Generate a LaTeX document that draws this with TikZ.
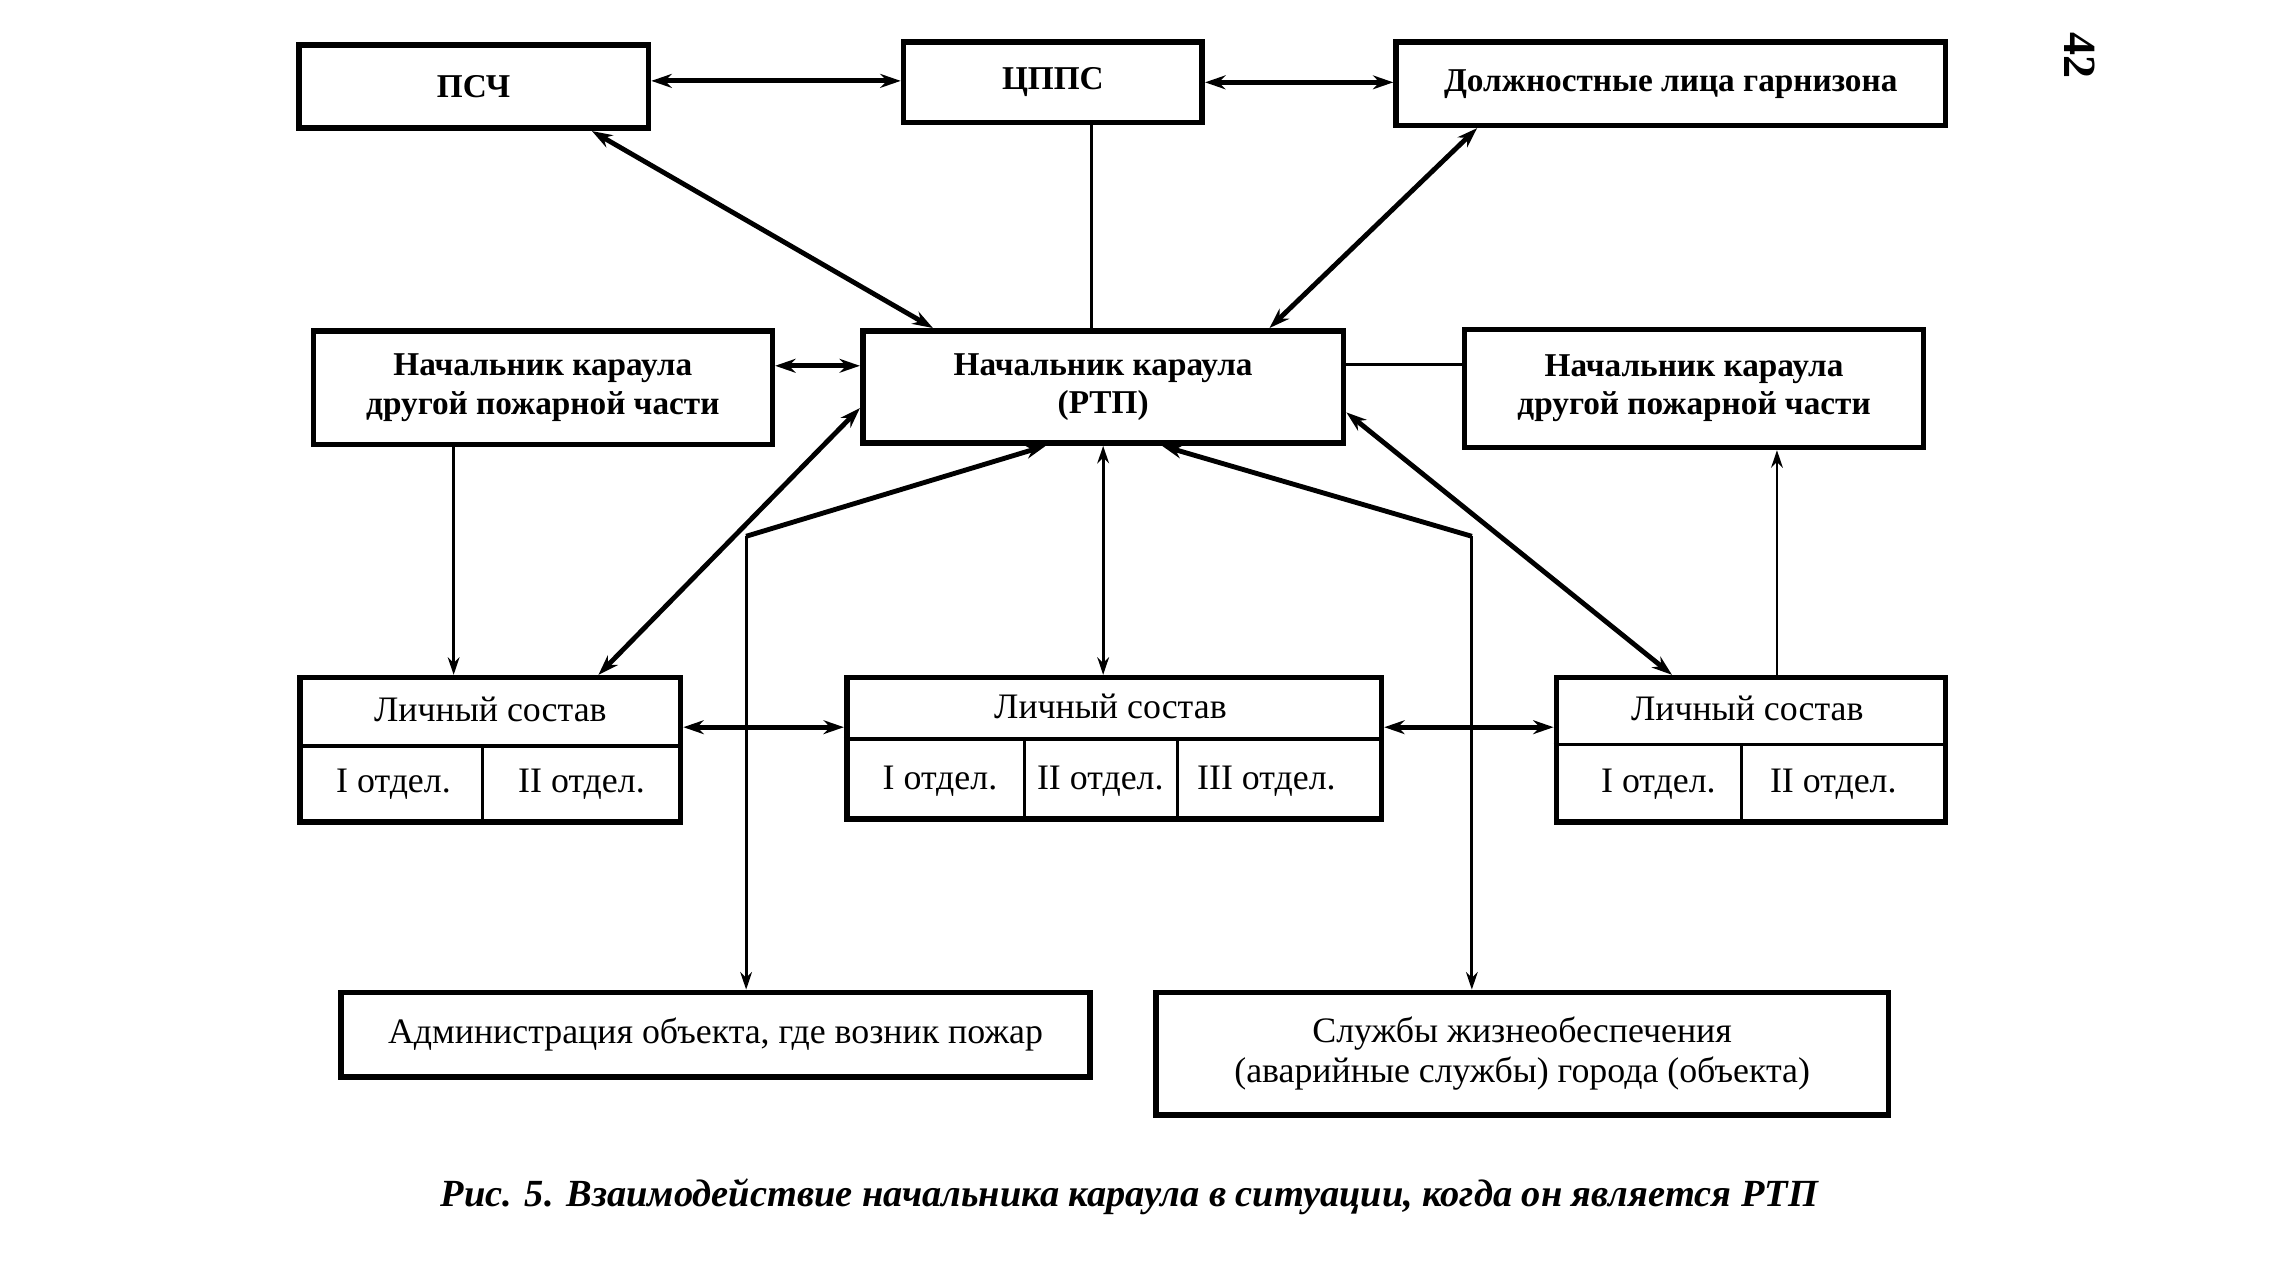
\documentclass[tikz,border=0pt]{standalone}
\usepackage{fontspec}
\setmainfont{Liberation Serif}
\usetikzlibrary{calc,arrows.meta}
\tikzset{
  box/.style={draw=black, line width=2.2pt, inner sep=0pt, align=center, font=\fontsize{13}{15}\selectfont\bfseries},
  boxr/.style={box, font=\fontsize{14}{15.5}\selectfont},
  grid/.style={draw=black, line width=1.4pt},
  cell/.style={inner sep=0pt, font=\fontsize{14}{16}\selectfont},
  dlink/.style={draw=black, line width=1.9pt, {Stealth[length=2.8mm,width=1.9mm]}-{Stealth[length=2.8mm,width=1.9mm]}},
  uplink/.style={draw=black, line width=1.9pt, {Stealth[length=2.8mm,width=1.9mm]}-},
  slink/.style={draw=black, line width=1.1pt, -{Stealth[length=2.4mm,width=1.6mm]}},
  sdlink/.style={draw=black, line width=1.1pt, {Stealth[length=2.4mm,width=1.6mm]}-{Stealth[length=2.4mm,width=1.6mm]}},
  bare/.style={draw=black, line width=1.4pt},
}
\begin{document}
\begin{tikzpicture}[x=0.02cm, y=-0.02cm]
  \fill[white] (0,0) rectangle (1568,881.8);
  \useasboundingbox (0,0) rectangle (1568,881.8);

  % top row
  \node[box, minimum width=4.8cm, minimum height=1.14cm] (psch) at (325,59.5) {ПСЧ};
  \node[box, minimum width=4.1cm, minimum height=1.1cm] (cpps) at (722.5,56.5) {ЦППС};
  \node[box, minimum width=7.54cm, minimum height=1.14cm] (dolzh) at (1146.5,57.5) {Должностные лица гарнизона};

  % middle row
  \node[box, minimum width=6.3cm, minimum height=1.56cm] (nkl) at (372.5,266) {Начальник караула\\другой пожарной части};
  \node[box, minimum width=6.6cm, minimum height=1.54cm] (rtp) at (757,265.5) {Начальник караула\\(РТП)};
  \node[box, minimum width=6.3cm, minimum height=1.62cm] (nkr) at (1162.5,266.5) {Начальник караула\\другой пожарной части};

  % personnel boxes
  \node[box, minimum width=5.22cm, minimum height=1.98cm] (lsl) at (336.5,514.5) {};
  \node[box, minimum width=7.34cm, minimum height=1.94cm] (lsc) at (764.5,513.5) {};
  \node[box, minimum width=5.34cm, minimum height=1.98cm] (lsr) at (1201.5,514.5) {};

  \draw[grid] (lsl.west |- 0,512) -- (lsl.east |- 0,512);
  \draw[grid] (331,512) -- (331,512 |- lsl.south);
  \draw[grid] (lsc.west |- 0,507) -- (lsc.east |- 0,507);
  \draw[grid] (703,507) -- (703,507 |- lsc.south);
  \draw[grid] (808,507) -- (808,507 |- lsc.south);
  \draw[grid] (lsr.west |- 0,511) -- (lsr.east |- 0,511);
  \draw[grid] (1195,511) -- (1195,511 |- lsr.south);

  \node[cell] (lslh) at (336.5,487) {Личный состав};
  \node[cell] (lsl1) at (270,538) {I отдел.};
  \node[cell] (lsl2) at (399,538) {II отдел.};
  \node[cell] (lsch) at (762,485) {Личный состав};
  \node[cell] (lsc1) at (645,536) {I отдел.};
  \node[cell] (lsc2) at (755,536) {II отдел.};
  \node[cell] (lsc3) at (869,536) {III отдел.};
  \node[cell] (lsrh) at (1199,486) {Личный состав};
  \node[cell] (lsr1) at (1138,538) {I отдел.};
  \node[cell] (lsr2) at (1258,538) {II отдел.};

  % bottom row
  \node[boxr, minimum width=10.28cm, minimum height=1.16cm] (adm) at (491,710) {Администрация объекта, где возник пожар};
  \node[boxr, minimum width=10.06cm, minimum height=1.68cm] (slu) at (1044.5,723) {Службы жизнеобеспечения\\(аварийные службы) города (объекта)};

  \node[font=\fontsize{15}{18}\selectfont\bfseries\itshape] (cap) at (775,821) {Рис. 5. Взаимодействие начальника караула в ситуации, когда он является РТП};
  \node[rotate=-90, font=\fontsize{18}{20}\selectfont\bfseries] (page) at (1427,38) {42};

  % connectors
  \draw[dlink] ([yshift=0.08cm]psch.east) -- ([yshift=0.08cm]psch.east -| cpps.west);
  \draw[dlink] (cpps.east) -- (cpps.east -| dolzh.west);
  \draw[dlink] ($(psch.south west)!0.833!(psch.south east)$) -- ($(rtp.north west)!0.15!(rtp.north east)$);
  \coordinate (cp) at ($(rtp.north west)!0.476!(rtp.north east)$);
  \draw[bare] (cp) -- (cp |- cpps.south);
  \draw[dlink] ($(dolzh.south west)!0.151!(dolzh.south east)$) -- ($(rtp.north west)!0.842!(rtp.north east)$);

  \draw[dlink] ([yshift=0.30cm]nkl.east) -- ([yshift=0.30cm]nkl.east -| rtp.west);
  \draw[bare] ([yshift=0.31cm]rtp.east) -- ([yshift=0.31cm]rtp.east -| nkr.west);

  \coordinate (nl) at ($(nkl.south west)!0.308!(nkl.south east)$);
  \draw[slink] (nl) -- (nl |- lsl.north);
  \draw[dlink] ([yshift=-0.29cm]rtp.west) -- ($(lsl.north west)!0.78!(lsl.north east)$);
  \draw[sdlink] (rtp.south) -- (rtp.south |- lsc.north);
  \draw[dlink] ([yshift=-0.35cm]rtp.east) -- ($(lsr.north west)!0.30!(lsr.north east)$);
  \coordinate (nr) at ($(lsr.north west)!0.566!(lsr.north east)$);
  \draw[slink] (nr) -- (nr |- nkr.south);

  % lines to the bottom boxes
  \coordinate (bl) at (512,368);
  \coordinate (br) at (1010,368);
  \draw[uplink] ($(rtp.south west)!0.382!(rtp.south east)$) -- (bl);
  \draw[slink] (bl) -- (bl |- adm.north);
  \draw[uplink] ($(rtp.south west)!0.621!(rtp.south east)$) -- (br);
  \draw[slink] (br) -- (br |- slu.north);

  \draw[dlink] ([yshift=0.31cm]lsl.east) -- ([yshift=0.31cm]lsl.east -| lsc.west);
  \draw[dlink] ([yshift=0.29cm]lsc.east) -- ([yshift=0.29cm]lsc.east -| lsr.west);
\end{tikzpicture}
\end{document}
